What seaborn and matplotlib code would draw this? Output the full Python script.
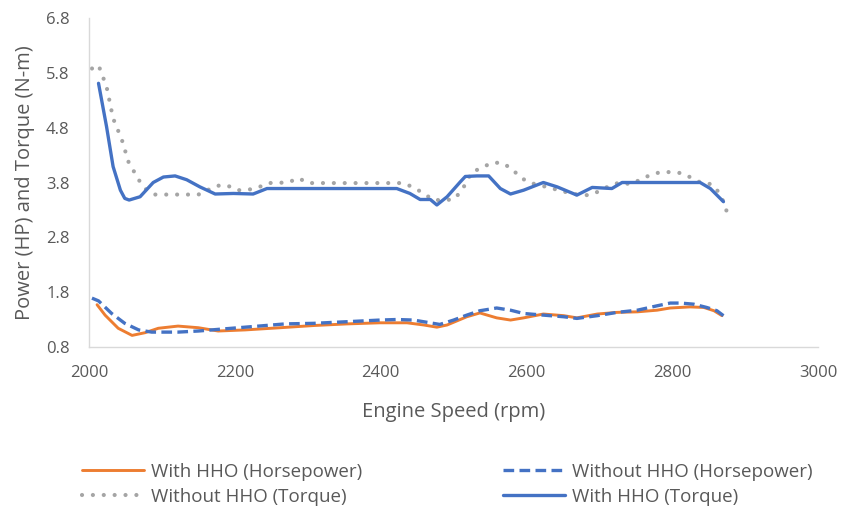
import matplotlib
matplotlib.use("Agg")
import matplotlib.pyplot as plt
import seaborn as sns
import pandas as pd

# Engine speed (rpm) and measured values for each series
hp_with_rpm = [2011, 2022, 2040, 2059, 2077, 2095, 2122, 2150, 2177, 2214, 2262, 2308,
               2354, 2399, 2436, 2459, 2477, 2491, 2518, 2536, 2541, 2559, 2578, 2596,
               2623, 2651, 2669, 2697, 2724, 2752, 2779, 2797, 2824, 2843, 2857, 2868]
hp_with = [1.57, 1.38, 1.14, 1.01, 1.06, 1.14, 1.18, 1.15, 1.09, 1.11, 1.15, 1.19,
           1.22, 1.24, 1.24, 1.20, 1.16, 1.20, 1.35, 1.42, 1.40, 1.33, 1.29, 1.33,
           1.40, 1.37, 1.33, 1.40, 1.43, 1.44, 1.47, 1.51, 1.53, 1.52, 1.46, 1.37]

hp_without_rpm = [2004, 2013, 2031, 2049, 2068, 2086, 2122, 2150, 2177, 2214, 2251, 2269,
                  2308, 2354, 2399, 2422, 2445, 2463, 2481, 2500, 2518, 2536, 2559, 2578,
                  2596, 2623, 2651, 2669, 2697, 2724, 2752, 2779, 2797, 2811, 2829, 2847,
                  2861, 2870]
hp_without = [1.69, 1.64, 1.41, 1.23, 1.11, 1.07, 1.07, 1.09, 1.12, 1.16, 1.20, 1.22,
              1.23, 1.26, 1.29, 1.30, 1.29, 1.25, 1.21, 1.29, 1.38, 1.46, 1.51, 1.47,
              1.41, 1.38, 1.35, 1.32, 1.37, 1.43, 1.47, 1.55, 1.60, 1.60, 1.58, 1.52,
              1.46, 1.37]

tq_without_rpm = [2004, 2013, 2024, 2033, 2045, 2054, 2068, 2079, 2091, 2150, 2175, 2189,
                  2203, 2216, 2232, 2246, 2273, 2287, 2301, 2431, 2445, 2459, 2472, 2486,
                  2500, 2511, 2525, 2539, 2552, 2566, 2580, 2590, 2603, 2630, 2644, 2658,
                  2674, 2687, 2701, 2715, 2728, 2742, 2756, 2770, 2784, 2799, 2813, 2827,
                  2840, 2854, 2863, 2870, 2875]
tq_without = [5.88, 5.94, 5.55, 4.97, 4.58, 4.18, 3.85, 3.66, 3.58, 3.58, 3.74, 3.75,
              3.66, 3.66, 3.71, 3.79, 3.80, 3.88, 3.79, 3.79, 3.71, 3.60, 3.48, 3.48,
              3.49, 3.65, 3.99, 4.07, 4.16, 4.16, 4.05, 3.91, 3.80, 3.71, 3.66, 3.61,
              3.57, 3.57, 3.65, 3.75, 3.80, 3.77, 3.85, 3.94, 3.99, 3.99, 3.97, 3.88,
              3.79, 3.77, 3.63, 3.45, 3.25]

tq_with_rpm = [2013, 2024, 2033, 2043, 2049, 2055, 2070, 2088, 2102, 2118, 2134, 2152,
               2173, 2198, 2225, 2244, 2300, 2360, 2422, 2440, 2454, 2468, 2477, 2491,
               2509, 2516, 2532, 2548, 2564, 2578, 2596, 2623, 2642, 2669, 2690, 2717,
               2731, 2780, 2838, 2852, 2870]
tq_with = [5.61, 4.82, 4.09, 3.66, 3.51, 3.48, 3.54, 3.80, 3.90, 3.92, 3.85, 3.72,
           3.59, 3.60, 3.59, 3.69, 3.69, 3.69, 3.69, 3.60, 3.49, 3.49, 3.39, 3.54,
           3.81, 3.91, 3.92, 3.92, 3.69, 3.59, 3.66, 3.80, 3.72, 3.57, 3.71, 3.69,
           3.80, 3.80, 3.80, 3.69, 3.45]

x_ticks = [2000, 2200, 2400, 2600, 2800, 3000]
y_ticks = [0.8, 1.8, 2.8, 3.8, 4.8, 5.8, 6.8]

ORANGE = "#ED7D31"
BLUE = "#4472C4"
GRAY = "#A5A5A5"
TEXT = "#595959"

sns.set_theme(style="white")
plt.rcParams["font.family"] = ["Open Sans", "DejaVu Sans"]

fig = plt.figure(figsize=(8.44, 5.17), dpi=100)
ax = fig.add_axes([0.1055, 0.329, 0.864, 0.636])

series = [
    ("With HHO (Horsepower)", hp_with_rpm, hp_with, ORANGE, "-", 2.1),
    ("Without HHO (Torque)", tq_without_rpm, tq_without, GRAY, (0, (0.01, 2.6)), 3.0),
    ("Without HHO (Horsepower)", hp_without_rpm, hp_without, BLUE, (0, (3.2, 1.6)), 2.4),
    ("With HHO (Torque)", tq_with_rpm, tq_with, BLUE, "-", 2.4),
]

handles = []
for label, xs, ys, color, ls, lw in series:
    df = pd.DataFrame({"rpm": xs, "value": ys})
    n_before = len(ax.lines)
    sns.lineplot(data=df, x="rpm", y="value", ax=ax, color=color, sort=False,
                 estimator=None, label=label, legend=False)
    line = ax.lines[n_before]
    line.set_linestyle(ls)
    line.set_linewidth(lw)
    if color == GRAY:
        line.set_dash_capstyle("round")
    else:
        line.set_solid_capstyle("round")
    handles.append(line)

ax.set_xlim(2000, 3000)
ax.set_ylim(0.8, 6.8)
ax.set_xticks(x_ticks)
ax.set_yticks(y_ticks)
ax.set_xticklabels([str(v) for v in x_ticks])
ax.set_yticklabels([f"{v:.1f}" for v in y_ticks])
ax.tick_params(axis="both", length=0, labelsize=12, colors=TEXT)
ax.tick_params(axis="x", pad=13)
ax.tick_params(axis="y", pad=14)

for side in ("top", "right"):
    ax.spines[side].set_visible(False)
for side in ("left", "bottom"):
    ax.spines[side].set_color("#D9D9D9")
    ax.spines[side].set_linewidth(1.0)

ax.set_xlabel("Engine Speed (rpm)", fontsize=14.5, color=TEXT, labelpad=15)
ax.set_ylabel("Power (HP) and Torque (N-m)", fontsize=14.5, color=TEXT, labelpad=8)
ax.grid(False)

fig.legend(handles=handles, labels=[s[0] for s in series], ncol=2,
           loc="center", bbox_to_anchor=(0.530, 0.063), frameon=False,
           fontsize=13.5, labelcolor=TEXT, handlelength=3.3, handletextpad=0.4,
           columnspacing=7.5, labelspacing=0.38)

fig.savefig("out.png", dpi=100, facecolor="white")
